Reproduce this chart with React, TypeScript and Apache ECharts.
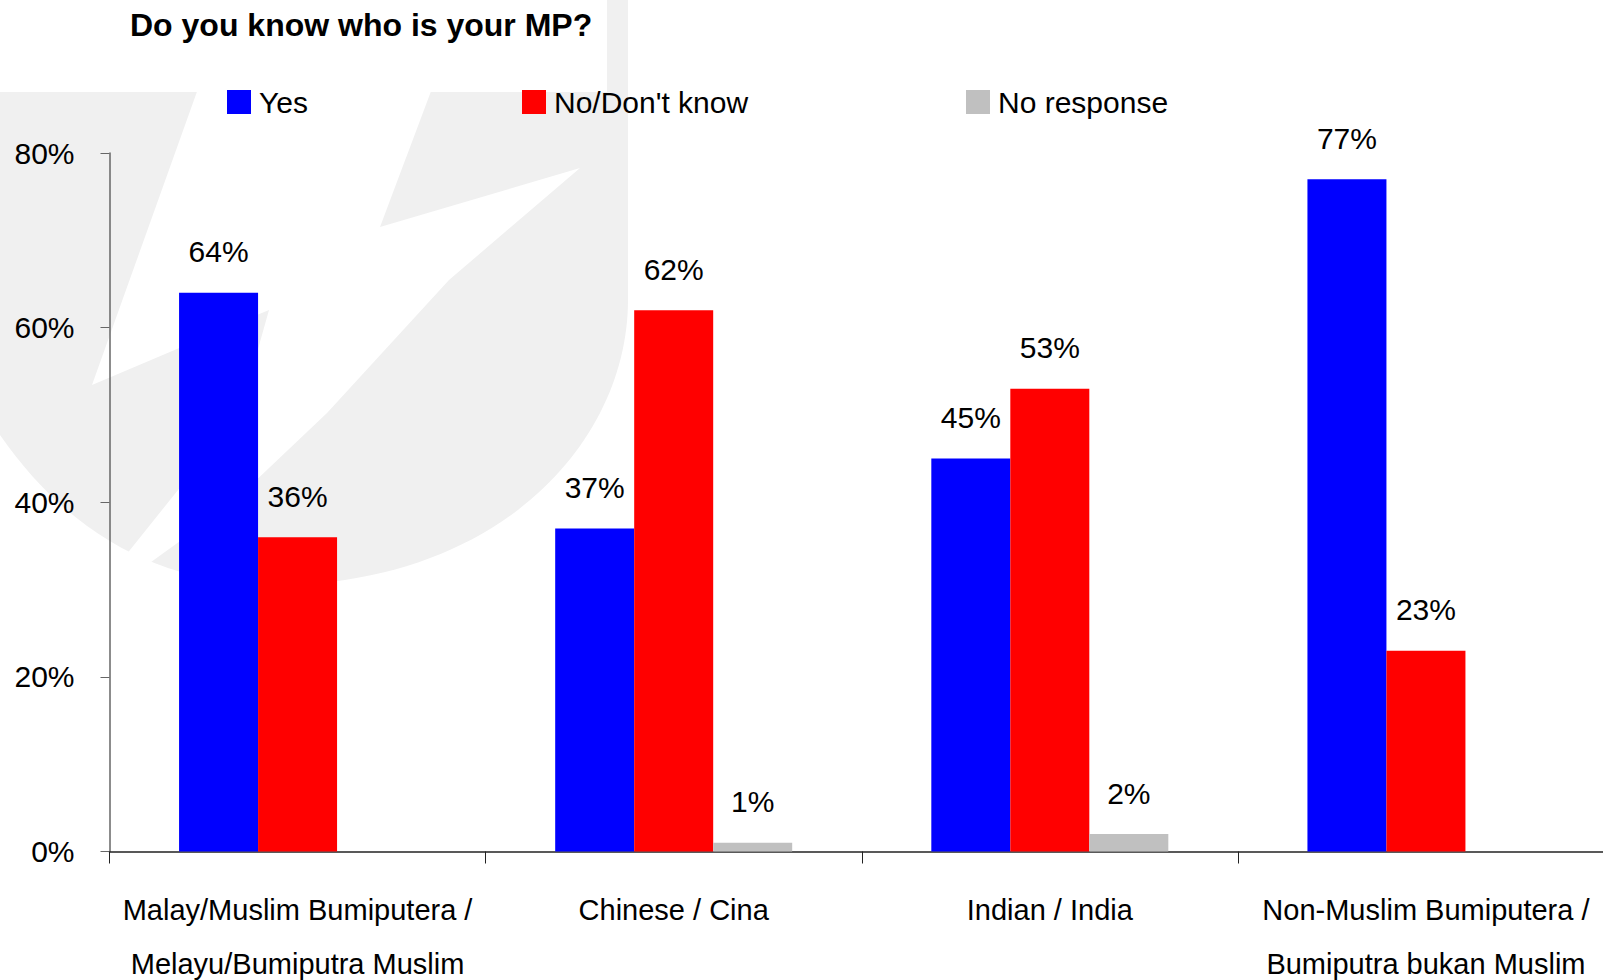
import React, { useEffect, useRef } from "react";
import * as echarts from "echarts";

const titleText = "Do you know who is your MP?";
const categories = [
  "Malay/Muslim Bumiputera /\nMelayu/Bumiputra Muslim",
  "Chinese / Cina",
  "Indian / India",
  "Non-Muslim Bumiputera /\nBumiputra bukan Muslim",
];
const seriesNames = ["Yes", "No/Don't know", "No response"];
const yesValues = [64, 37, 45, 77];
const noValues = [36, 62, 53, 23];
const noResponseValues: (number | null)[] = [null, 1, 2, null];
const seriesColors = ["#0000ff", "#ff0000", "#c0c0c0"];
const yMin = 0;
const yMax = 80;
const yInterval = 20;

const FONT = '"Liberation Sans Narrow", "Arial Narrow", "Liberation Sans", Arial, sans-serif';

// faint background logo (watermark)
const shieldPath =
  "M -10 92 L 607 92 L 607 0 L 628 0 L 628 300 C 628 430 520 560 330 582 C 200 597 80 560 -10 420 Z";
echarts.graphic.registerShape("wmShield", echarts.graphic.extendPath(shieldPath, {}));
const boltPoints = [
  [199, 86],
  [433, 86],
  [380, 227],
  [580, 168],
  [449, 280],
  [327, 413],
  [230, 505],
  [140, 570],
  [110, 575],
  [170, 500],
  [240, 413],
  [269, 310],
  [92, 385],
];

export default function App() {
  const ref = useRef<HTMLDivElement>(null);
  useEffect(() => {
    document.body.style.margin = "0";
    if (!ref.current) return;
    const chart = echarts.init(ref.current, undefined, { renderer: "svg" });
    const allValues = [yesValues, noValues, noResponseValues];
    const labelStyle = {
      show: true,
      position: "top",
      distance: 26,
      formatter: "{c}%",
      color: "#000",
      fontFamily: FONT,
      fontSize: 30,
    };
    const legendPos = [227, 522, 966];
    chart.setOption({
      animation: false,
      backgroundColor: "transparent",
      title: {
        text: titleText,
        left: 130,
        top: 9,
        padding: 0,
        textStyle: { fontFamily: FONT, fontWeight: "bold", fontSize: 32, color: "#000" },
      },
      legend: seriesNames.map((n, i) => ({
        data: [n],
        left: legendPos[i],
        top: 87,
        padding: 0,
        icon: "rect",
        itemWidth: 24,
        itemHeight: 24,
        itemGap: 0,
        selectedMode: false,
        textStyle: { fontFamily: FONT, fontSize: 30, color: "#000", padding: [0, 0, 0, 3] },
      })),
      graphic: {
        elements: [
          {
            type: "wmShield",
            x: 0,
            y: 0,
            z: -20,
            silent: true,
            style: { fill: "#f0f0f0" },
          },
          {
            type: "polygon",
            z: -19,
            silent: true,
            shape: { points: boltPoints },
            style: { fill: "#ffffff" },
          },
        ],
      },
      grid: {
        left: 109.5,
        right: -11,
        top: 153,
        bottom: 128.5,
        containLabel: false,
        outerBoundsMode: "none",
      },
      xAxis: {
        type: "category",
        data: categories,
        axisLine: { lineStyle: { color: "#222", width: 1.5 } },
        axisTick: { show: true, length: 12, lineStyle: { color: "#222" } },
        axisLabel: {
          interval: 0,
          margin: 31,
          fontFamily: FONT,
          fontSize: 29,
          lineHeight: 54,
          color: "#000",
        },
      },
      yAxis: {
        type: "value",
        min: yMin,
        max: yMax,
        interval: yInterval,
        splitLine: { show: false },
        axisLine: { show: true, lineStyle: { color: "#666", width: 1.5 } },
        axisTick: { show: true, length: 9, lineStyle: { color: "#666" } },
        axisLabel: {
          formatter: "{value}%",
          margin: 35,
          fontFamily: FONT,
          fontSize: 30,
          color: "#000",
        },
      },
      series: seriesNames.map((n, i) => ({
        name: n,
        type: "bar",
        data: allValues[i],
        barWidth: 79,
        barGap: "0%",
        itemStyle: { color: seriesColors[i] },
        label: labelStyle,
      })),
    });
    return () => chart.dispose();
  }, []);
  return <div ref={ref} style={{ width: 1603, height: 980 }} />;
}
